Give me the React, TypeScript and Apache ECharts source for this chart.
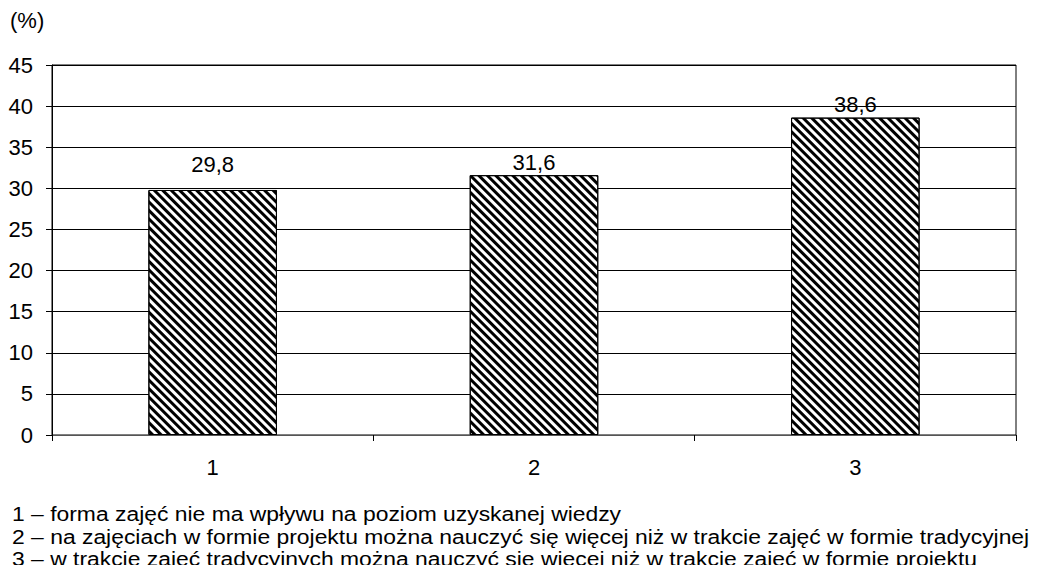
import React, { useEffect, useRef } from "react";
import * as echarts from "echarts";

const categories = ["1", "2", "3"];
const values = [29.8, 31.6, 38.6];
const labelTexts = ["29,8", "31,6", "38,6"];
const labelDistances = [14, 2, 2];
const yTicks = [0, 5, 10, 15, 20, 25, 30, 35, 40, 45];
const notes = [
  "1 – forma zajęć nie ma wpływu na poziom uzyskanej wiedzy",
  "2 – na zajęciach w formie projektu można nauczyć się więcej niż w trakcie zajęć w formie tradycyjnej",
  "3 – w trakcie zajęć tradycyjnych można nauczyć się więcej niż w trakcie zajęć w formie projektu",
];

const FONT = "'Liberation Sans', Arial, sans-serif";
const FS = 22;
const NOTE_FS = 21;

export default function App() {
  const ref = useRef<HTMLDivElement>(null);
  useEffect(() => {
    if (!ref.current) return;
    const chart = echarts.init(ref.current, null, { renderer: "svg" });
    chart.setOption({
      animation: false,
      backgroundColor: "#fff",
      textStyle: { fontFamily: FONT },
      grid: {
        left: 52,
        right: 23,
        top: 65,
        bottom: 138,
        show: true,
        borderColor: "#000",
        borderWidth: 1,
      },
      xAxis: {
        type: "category",
        data: categories,
        boundaryGap: true,
        axisLine: { lineStyle: { color: "#555", width: 1 } },
        axisTick: { show: true, length: 6, lineStyle: { color: "#000" } },
        axisLabel: { color: "#000", fontSize: FS, margin: 21, fontFamily: FONT },
        splitLine: { show: false },
      },
      yAxis: {
        type: "value",
        min: yTicks[0],
        max: yTicks[yTicks.length - 1],
        interval: 5,
        axisLine: { show: true, lineStyle: { color: "#000" } },
        axisTick: { show: true, length: 6, lineStyle: { color: "#000" } },
        axisLabel: { color: "#000", fontSize: FS, margin: 19, fontFamily: FONT },
        splitLine: { show: true, lineStyle: { color: "#000", width: 1 } },
      },
      series: [
        {
          type: "bar",
          barWidth: "40%",
          data: values.map((v, i) => ({
            value: v,
            label: {
              show: true,
              position: "top",
              distance: labelDistances[i],
              formatter: () => labelTexts[i],
              color: "#000",
              fontSize: FS,
              fontFamily: FONT,
            },
          })),
          itemStyle: {
            color: "#fff",
            borderColor: "#000",
            borderWidth: 1,
            decal: {
              symbol: "rect",
              symbolSize: 1,
              color: "#000",
              backgroundColor: "#fff",
              dashArrayX: [1, 0],
              dashArrayY: [2.5, 2.5],
              rotation: Math.PI / 4,
            },
          },
        },
      ],
      graphic: [
        {
          type: "text",
          x: 10,
          y: 20,
          style: { text: "(%)", fontSize: FS, fontFamily: FONT, fill: "#000", verticalAlign: "middle" },
        },
        ...notes.map((t, i) => ({
          type: "text",
          x: 12,
          y: 514 + i * 22.5,
          scaleX: 1.09,
          style: { text: t, fontSize: NOTE_FS, fontFamily: FONT, fill: "#000", verticalAlign: "middle" },
        })),
      ],
    });
    return () => chart.dispose();
  }, []);
  return <div ref={ref} style={{ width: 1039, height: 573, margin: -8 }} />;
}
